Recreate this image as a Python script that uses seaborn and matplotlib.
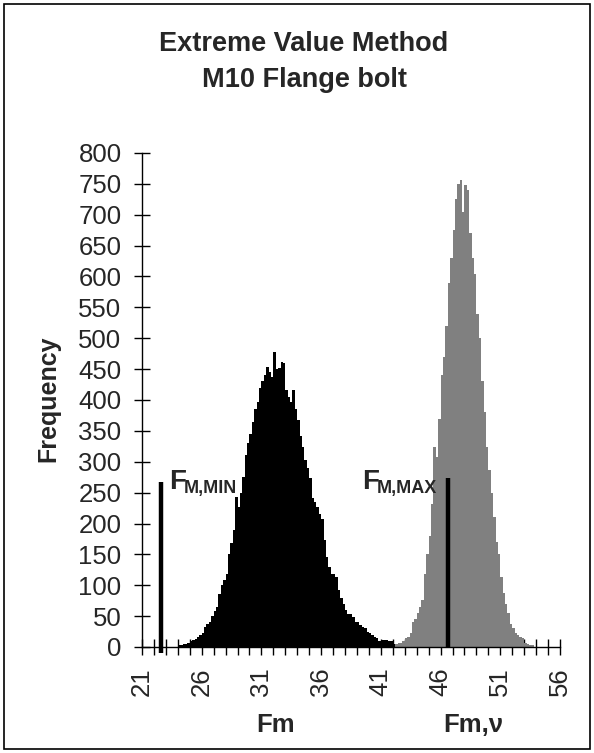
import numpy as np
import pandas as pd
import matplotlib
matplotlib.use("Agg")
import matplotlib.pyplot as plt
import seaborn as sns
from matplotlib.patches import Rectangle

# ---------------- data ----------------
bin_width = 0.2
fm_start = 24.0
fm_counts = [4, 4, 5, 5, 6, 10, 12, 13, 17, 20,
             23, 33, 38, 41, 51, 58, 65, 86, 100, 108,
             119, 151, 168, 189, 243, 227, 250, 276, 311, 330,
             345, 365, 385, 397, 420, 430, 440, 454, 445, 438,
             478, 450, 452, 462, 460, 416, 405, 397, 416, 386,
             368, 341, 324, 303, 290, 273, 241, 235, 227, 215,
             208, 173, 146, 130, 119, 119, 114, 92, 79, 70,
             60, 54, 54, 49, 41, 41, 36, 32, 30, 25,
             22, 20, 16, 14, 9, 12, 12, 12, 10, 10,
             5]
fmv_start = 42.2
fmv_counts = [5, 7, 7, 10, 14, 17, 23, 40, 46, 55,
              65, 76, 119, 150, 180, 232, 324, 308, 370, 440,
              470, 520, 590, 630, 675, 726, 750, 757, 705, 748,
              740, 670, 630, 604, 540, 500, 430, 380, 324, 287,
              249, 210, 170, 151, 114, 87, 70, 55, 38, 30,
              22, 20, 17, 15, 7, 5, 3, 3]
fmin_x, fmin_h = 22.6, 267
fmax_x, fmax_h = 46.6, 273
x_tick_labels = [21, 26, 31, 36, 41, 46, 51, 56]
y_ticks = list(range(0, 801, 50))

def centers(start, counts):
    return np.round(start + bin_width * (np.arange(len(counts)) + 0.5), 3)

df_fm = pd.DataFrame({"x": centers(fm_start, fm_counts), "w": fm_counts})
df_fmv = pd.DataFrame({"x": centers(fmv_start, fmv_counts), "w": fmv_counts})

# ---------------- style ----------------
sns.set_style("white")
plt.rcParams["font.family"] = ["Liberation Sans", "DejaVu Sans"]

fig = plt.figure(figsize=(5.94, 7.53), dpi=100)
ax = fig.add_axes([142/594, 106/753, (560-142)/594, (647-153)/753])

sns.histplot(data=df_fm, x="x", weights="w", binwidth=bin_width,
             binrange=(fm_start, fm_start + bin_width * len(fm_counts)),
             element="step", fill=True, color="black", alpha=1, linewidth=0, ax=ax)
sns.histplot(data=df_fmv, x="x", weights="w", binwidth=bin_width,
             binrange=(fmv_start, fmv_start + bin_width * len(fmv_counts)),
             element="step", fill=True, color="#808080", alpha=1, linewidth=0, ax=ax)

# limit lines
ax.vlines(fmin_x, -9, fmin_h, color="black", linewidth=3.2, clip_on=False, zorder=5)
ax.vlines(fmax_x, 0, fmax_h, color="black", linewidth=3.2, clip_on=False, zorder=5)
ax.text(23.3, 256, "F", fontsize=20, fontweight="bold", ha="left", va="baseline")
ax.text(24.5, 249, "M,MIN", fontsize=13, fontweight="bold", ha="left", va="baseline")
ax.text(39.45, 256, "F", fontsize=20, fontweight="bold", ha="left", va="baseline")
ax.text(40.65, 249, "M,MAX", fontsize=13, fontweight="bold", ha="left", va="baseline")

# axes
ax.set_xlim(21, 56)
ax.set_ylim(0, 800)
ax.set_xticks(x_tick_labels)
ax.set_xticklabels([str(v) for v in x_tick_labels], rotation=90, fontsize=18.5)
ax.set_xticks(np.arange(21, 57, 1), minor=True)
ax.set_yticks(y_ticks)
ax.set_yticklabels([str(v) for v in y_ticks], fontsize=18.5)
ax.tick_params(axis="both", which="both", direction="inout", length=11.5,
               width=1, color="black", left=True, bottom=True)
ax.tick_params(axis="x", which="major", pad=9)
ax.tick_params(axis="y", which="major", pad=9)
for s in ["top", "right"]:
    ax.spines[s].set_visible(False)
for s in ["left", "bottom"]:
    ax.spines[s].set_color("black")
    ax.spines[s].set_linewidth(1)
ax.set_xlabel("")
ax.set_ylabel("")
ax.grid(False)

# labels
fig.text(304/594, 1 - 44/753, "Extreme Value Method", ha="center", va="center",
         fontsize=19.5, fontweight="bold")
fig.text(304/594, 1 - 80/753, "M10 Flange bolt", ha="center", va="center",
         fontsize=19.5, fontweight="bold")
fig.text(48/594, 1 - 399/753, "Frequency", rotation=90, ha="center", va="center",
         fontsize=18, fontweight="bold")
fig.text(276/594, 1 - 725/753, "Fm", ha="center", va="center",
         fontsize=18.5, fontweight="bold")
fig.text(473/594, 1 - 725/753, "Fm,ν", ha="center", va="center",
         fontsize=18.5, fontweight="bold")

# outer frame
fig.patches.append(Rectangle((4/594, 4/753), 586/594, 745/753, transform=fig.transFigure,
                             fill=False, edgecolor="black", linewidth=1.2))

fig.savefig("out.png", dpi=100)
